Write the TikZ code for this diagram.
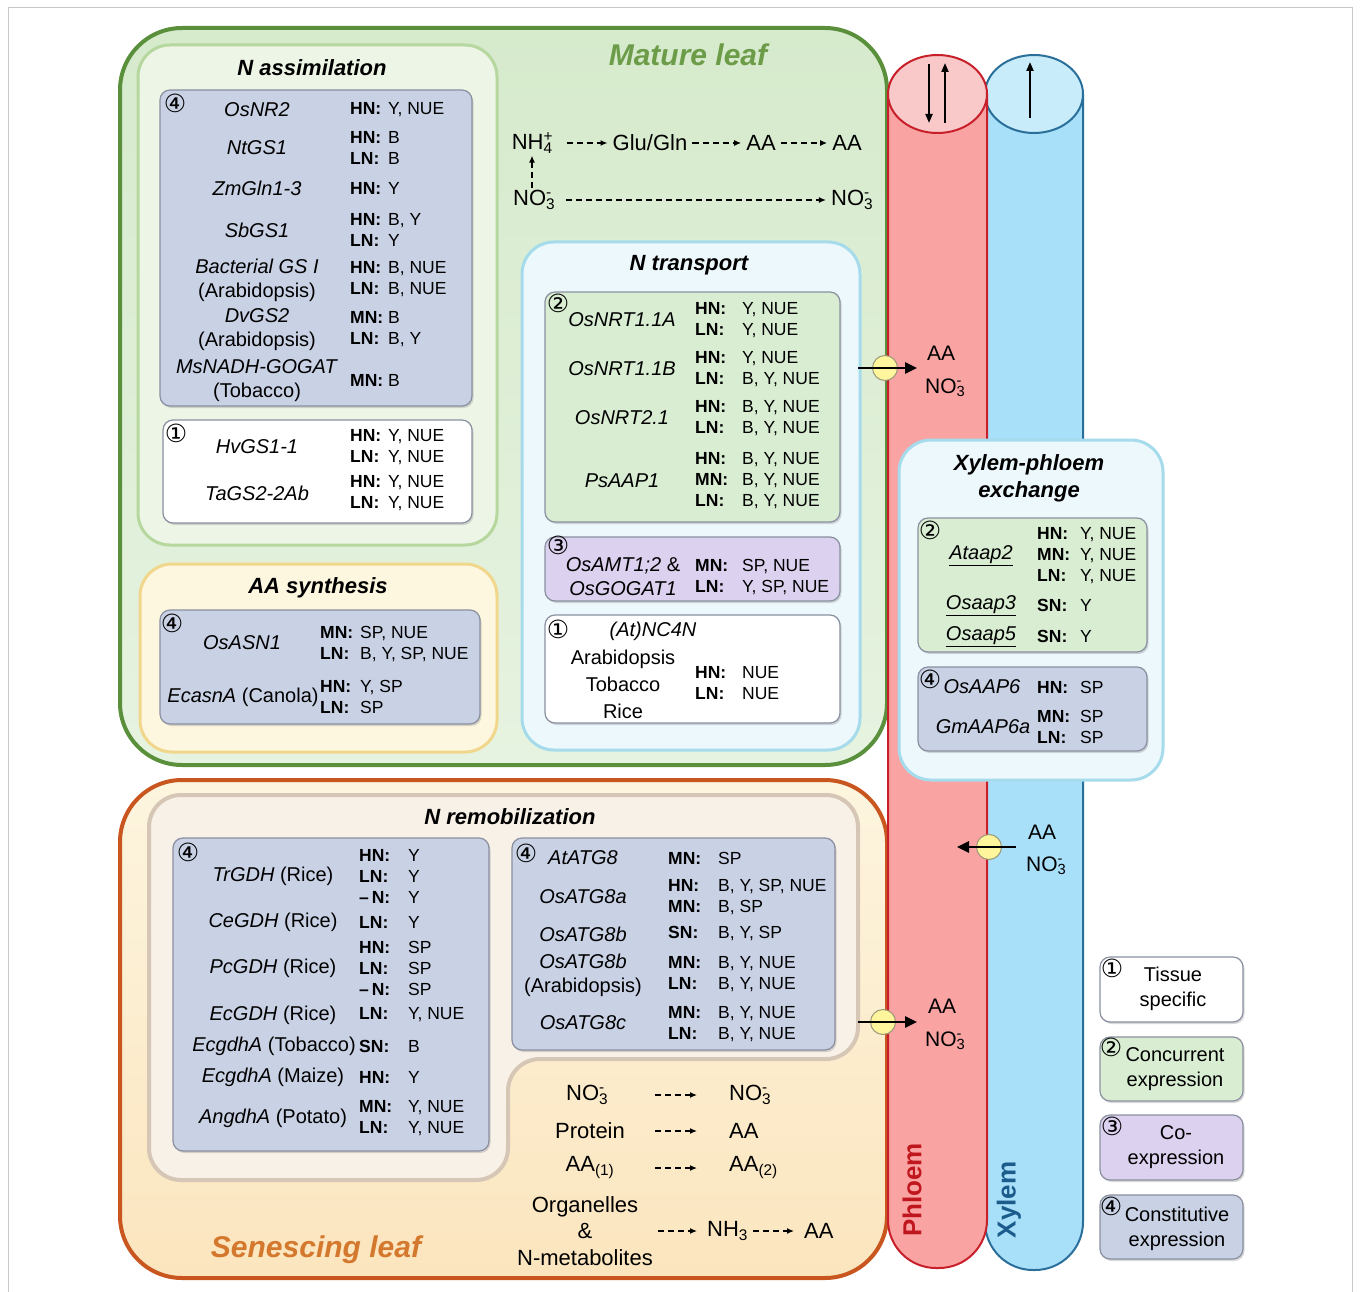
\documentclass[tikz,border=0pt]{standalone}
\usepackage{fontspec}
\setmainfont{Liberation Sans}
\newfontfamily\symfont{DejaVu Sans}
\usepackage{tikz}
\usetikzlibrary{positioning, arrows.meta, shadows}

\definecolor{matdraw}{HTML}{5A8F3C}
\definecolor{mattitle}{HTML}{6C9C48}
\definecolor{matA}{HTML}{D6EACC}
\definecolor{matB}{HTML}{E6F3E0}
\definecolor{sendraw}{HTML}{C8561E}
\definecolor{sentitle}{HTML}{D4782E}
\definecolor{senA}{HTML}{FDF5DF}
\definecolor{senB}{HTML}{FBE5BE}
\definecolor{asmdraw}{HTML}{B6D79E}
\definecolor{asmfill}{HTML}{EDF6E6}
\definecolor{aasdraw}{HTML}{F1D78C}
\definecolor{aasfill}{HTML}{FDF7E0}
\definecolor{trndraw}{HTML}{A6DBEC}
\definecolor{trnfill}{HTML}{EDF8FC}
\definecolor{remdraw}{HTML}{D6C6B6}
\definecolor{remfill}{HTML}{F8F1E8}
\definecolor{boxgray}{HTML}{8A90A0}
\definecolor{constfill}{HTML}{C9D1E5}
\definecolor{concfill}{HTML}{D9EDD3}
\definecolor{coexfill}{HTML}{DCD1EE}
\definecolor{phldraw}{HTML}{C8202A}
\definecolor{phlfill}{HTML}{F9A3A3}
\definecolor{phlcap}{HTML}{F9C8C8}
\definecolor{phltxt}{HTML}{C0161E}
\definecolor{xyldraw}{HTML}{2A6E9A}
\definecolor{xylfill}{HTML}{A9E0F9}
\definecolor{xylcap}{HTML}{C8ECFA}
\definecolor{xyltxt}{HTML}{1C5C8C}
\definecolor{portfill}{HTML}{FFF59C}
\definecolor{portdraw}{HTML}{9A9878}
\definecolor{framec}{HTML}{C8C8C8}

\newlength\condw
\newcommand\cnd[2]{\makebox[\condw][l]{\textbf{#1:}}#2}
\newcommand\nothree{NO\rlap{\raisebox{1pt}{\textsuperscript{-}}}\textsubscript{3}}

\tikzset{
  leaf/.style={line width=4pt, rounded corners=62pt},
  grp/.style={line width=3pt, rounded corners=32pt},
  gbox/.style={draw=boxgray, line width=1.2pt, rounded corners=10pt,
    drop shadow={shadow xshift=1.5pt, shadow yshift=-2pt, opacity=.3}},
  const/.style={gbox, fill=constfill},
  concur/.style={gbox, fill=concfill},
  coexp/.style={gbox, fill=coexfill},
  tissue/.style={gbox, fill=white},
  ttl/.style={font=\fontsize{22}{27}\selectfont\bfseries\itshape, align=center, inner sep=0pt},
  leaftl/.style={font=\fontsize{30}{34}\selectfont\bfseries\itshape, inner sep=0pt},
  gene/.style={font=\fontsize{20}{24}\selectfont, align=center, inner sep=0pt},
  cond/.style={font=\fontsize{17.5}{21}\selectfont, align=left, anchor=west, inner sep=0pt},
  num/.style={font=\fontsize{25}{25}\selectfont\symfont, inner sep=0pt},
  met/.style={font=\fontsize{22}{26.5}\selectfont, align=center, inner ysep=2pt, inner xsep=5pt},
  lbl/.style={font=\fontsize{21}{25}\selectfont, inner sep=0pt},
  lgd/.style={font=\fontsize{20}{25}\selectfont, align=center, inner sep=0pt},
  darr/.style={-{Latex[length=7pt, width=6pt]}, line width=1.3pt, dash pattern=on 6pt off 4pt},
  rarr/.style={darr, shorten >=30pt},
  tarr/.style={-{Triangle[length=12pt, width=11pt]}, line width=2.6pt},
  tubearr/.style={-{Triangle[length=9pt, width=7pt]}, line width=2pt},
  porter/.style={circle, draw=portdraw, fill=portfill, line width=1pt, minimum size=25pt, inner sep=0pt},
}

\begin{document}
\begin{tikzpicture}[x=1pt, y=-1pt]
\useasboundingbox (0,0) rectangle (1360,1292);
\draw[framec, line width=1pt] (8,1292) -- (8,8) -- (1352,8) -- (1352,1292);

% leaves
\path[leaf, draw=matdraw, top color=matA, bottom color=matB] (120,28) rectangle (887,765);
\path[leaf, draw=sendraw, top color=senA, bottom color=senB] (120,780) rectangle (887,1278);
\node[leaftl, text=mattitle] (mature) at (688,55) {Mature leaf};
\node[leaftl, text=sentitle] (senesc) at (316,1250) {Senescing leaf};

% group boxes
\path[grp, draw=asmdraw, fill=asmfill] (138,45) rectangle (497,545);
\path[grp, draw=aasdraw, fill=aasfill] (140,564) rectangle (497,752);
\path[grp, draw=trndraw, fill=trnfill] (522,242) rectangle (860,750);
\path[grp, draw=remdraw, fill=remfill, line width=4pt] (149,795) -- (858,795) -- (858,1059)
  -- (508,1059) -- (508,1180) -- (149,1180) -- cycle;

% xylem and phloem
\path[draw=xyldraw, fill=xylfill, line width=2pt, rounded corners=48pt] (985,94) -- (985,1270) -- (1083,1270) -- (1083,94);
\draw[xyldraw, fill=xylcap, line width=2pt] (1034,94) ellipse [x radius=49pt, y radius=39pt];
\path[draw=phldraw, fill=phlfill, line width=2pt, rounded corners=48pt] (888,94) -- (888,1268) -- (987,1268) -- (987,94);
\draw[phldraw, fill=phlcap, line width=2pt] (937.5,94) ellipse [x radius=49.5pt, y radius=39pt];
\draw[tubearr] (929,64) -- (929,123);
\draw[tubearr] (945,123) -- (945,63);
\draw[tubearr] (1030,118) -- (1030,62);
\node[font=\fontsize{26}{30}\selectfont\bfseries, text=phltxt, rotate=90] (phloem) at (912,1190) {Phloem};
\node[font=\fontsize{26}{30}\selectfont\bfseries, text=xyltxt, rotate=90] (xylem) at (1009,1200) {Xylem};

\path[grp, draw=trndraw, fill=trnfill] (899,440) rectangle (1163,780);

% inner boxes
\path[const] (160,90) rectangle (472,406);
\path[tissue] (163,420) rectangle (472,523);
\path[const] (160,610) rectangle (480,724);
\path[concur] (545,292) rectangle (840,522);
\path[coexp] (545,537) rectangle (840,601);
\path[tissue] (545,615) rectangle (840,723);
\path[concur] (918,518) rectangle (1147,652);
\path[const] (918,667) rectangle (1147,751);
\path[const] (173,838) rectangle (489,1151);
\path[const] (512,838) rectangle (835,1050);

% N assimilation
\node[ttl] (asm) at (312,68) {N assimilation};
\setlength{\condw}{38pt}
\node[num] (asmn4) at (175,103) {④};
\node[gene] (nr2) at (257,110) {\textit{OsNR2}};
\node[cond] (nr2c) at (350,110) {\cnd{HN}{Y, NUE}};
\node[gene] (ntgs) at (257,148) {\textit{NtGS1}};
\node[cond] (ntgsc) at (350,148) {\cnd{HN}{B}\\\cnd{LN}{B}};
\node[gene] (zmgln) at (257,188) {\textit{ZmGln1-3}};
\node[cond] (zmglnc) at (350,188) {\cnd{HN}{Y}};
\node[gene] (sbgs) at (257,230) {\textit{SbGS1}};
\node[cond] (sbgsc) at (350,230) {\cnd{HN}{B, Y}\\\cnd{LN}{Y}};
\node[gene] (bgs) at (257,280) {\textit{Bacterial GS I}\\(Arabidopsis)};
\node[cond] (bgsc) at (350,279) {\cnd{HN}{B, NUE}\\\cnd{LN}{B, NUE}};
\node[gene] (dvgs) at (257,330) {\textit{DvGS2}\\(Arabidopsis)};
\node[cond] (dvgsc) at (350,329) {\cnd{MN}{B}\\\cnd{LN}{B, Y}};
\node[gene] (msgog) at (257,381) {\textit{MsNADH-GOGAT}\\(Tobacco)};
\node[cond] (msgogc) at (350,380) {\cnd{MN}{B}};
\node[num] (asmn1) at (176,433) {①};
\node[gene] (hvgs) at (257,447) {\textit{HvGS1-1}};
\node[cond] (hvgsc) at (350,447) {\cnd{HN}{Y, NUE}\\\cnd{LN}{Y, NUE}};
\node[gene] (tags) at (257,493) {\textit{TaGS2-2Ab}};
\node[cond] (tagsc) at (350,493) {\cnd{HN}{Y, NUE}\\\cnd{LN}{Y, NUE}};

% AA synthesis
\node[ttl] (aas) at (318,588) {AA synthesis};
\setlength{\condw}{40pt}
\node[num] (aasn4) at (172,623) {④};
\node[gene] (asn) at (242,643) {\textit{OsASN1}};
\node[cond] (asnc) at (320,644) {\cnd{MN}{SP, NUE}\\\cnd{LN}{B, Y, SP, NUE}};
\node[gene] (ecasn) at (243,697) {\textit{EcasnA} (Canola)};
\node[cond] (ecasnc) at (320,697) {\cnd{HN}{Y, SP}\\\cnd{LN}{SP}};

% pathway in mature leaf
\node[met] (nh4) at (537,143) {NH\rlap{\raisebox{1pt}{\textsuperscript{+}}}\textsubscript{4}\hphantom{\textsuperscript{+}}};
\node[met] (glu) at (650,143) {Glu/Gln};
\node[met] (aa1) at (761,143) {AA};
\node[met] (aa2) at (847,143) {AA};
\node[met] (no3a) at (537,200) {\nothree\hphantom{\textsuperscript{-}}};
\node[met] (no3b) at (855,200) {\nothree\hphantom{\textsuperscript{-}}};
\draw[darr] (nh4) -- (glu);
\draw[darr] (glu) -- (aa1);
\draw[darr] (aa1) -- (aa2);
\draw[darr] (no3a) -- (no3b);
\draw[darr] ([xshift=-5pt]no3a.north) -- ([xshift=-5pt]nh4.south);

% N transport
\node[ttl] (trn) at (689,265) {N transport};
\setlength{\condw}{47pt}
\node[num] (trnn2) at (558,303) {②};
\node[gene] (nrt1a) at (622,320) {\textit{OsNRT1.1A}};
\node[cond] (nrt1ac) at (695,320) {\cnd{HN}{Y, NUE}\\\cnd{LN}{Y, NUE}};
\node[gene] (nrt1b) at (622,369) {\textit{OsNRT1.1B}};
\node[cond] (nrt1bc) at (695,369) {\cnd{HN}{Y, NUE}\\\cnd{LN}{B, Y, NUE}};
\node[gene] (nrt2) at (622,418) {\textit{OsNRT2.1}};
\node[cond] (nrt2c) at (695,418) {\cnd{HN}{B, Y, NUE}\\\cnd{LN}{B, Y, NUE}};
\node[gene] (aap1) at (622,481) {\textit{PsAAP1}};
\node[cond] (aap1c) at (695,481) {\cnd{HN}{B, Y, NUE}\\\cnd{MN}{B, Y, NUE}\\\cnd{LN}{B, Y, NUE}};
\node[num] (trnn3) at (558,545) {③};
\node[gene] (amt) at (623,577) {\textit{OsAMT1;2} \&\\\textit{OsGOGAT1}};
\node[cond] (amtc) at (695,577) {\cnd{MN}{SP, NUE}\\\cnd{LN}{Y, SP, NUE}};
\node[num] (trnn1) at (558,629) {①};
\node[gene] (nc4n) at (653,631) {\textit{(At)NC4N}};
\node[gene, font=\fontsize{20}{27}\selectfont] (nc4nsp) at (623,684) {Arabidopsis\\Tobacco\\Rice};
\node[cond] (nc4nc) at (695,683) {\cnd{HN}{NUE}\\\cnd{LN}{NUE}};

% transporters
\node[porter] (p1) at (885,368) {};
\coordinate (p1in) at (858,368);
\coordinate (p1out) at (917,368);
\draw[tarr] (p1in) -- (p1out);
\node[lbl] (p1aa) at (941,353) {AA};
\node[lbl] (p1no) at (948,388) {\nothree\hphantom{\textsuperscript{-}}};
\node[porter] (p2) at (989,847) {};
\coordinate (p2in) at (1016,847);
\coordinate (p2out) at (957,847);
\draw[tarr] (p2in) -- (p2out);
\node[lbl] (p2aa) at (1042,832) {AA};
\node[lbl] (p2no) at (1049,866) {\nothree\hphantom{\textsuperscript{-}}};
\node[porter] (p3) at (883,1022) {};
\coordinate (p3in) at (858,1022);
\coordinate (p3out) at (917,1022);
\draw[tarr] (p3in) -- (p3out);
\node[lbl] (p3aa) at (942,1006) {AA};
\node[lbl] (p3no) at (948,1041) {\nothree\hphantom{\textsuperscript{-}}};

% xylem-phloem exchange
\node[ttl] (xpx) at (1029,478) {Xylem-phloem\\exchange};
\setlength{\condw}{43pt}
\node[num] (xpxn2) at (930,530) {②};
\node[gene] (ataap2) at (981,556) {\underline{\textit{Ataap2}}};
\node[cond] (ataap2c) at (1037,556) {\cnd{HN}{Y, NUE}\\\cnd{MN}{Y, NUE}\\\cnd{LN}{Y, NUE}};
\node[gene] (osaap3) at (981,606) {\underline{\textit{Osaap3}}};
\node[cond] (osaap3c) at (1037,605) {\cnd{SN}{Y}};
\node[gene] (osaap5) at (981,637) {\underline{\textit{Osaap5}}};
\node[cond] (osaap5c) at (1037,636) {\cnd{SN}{Y}};
\node[num] (xpxn4) at (930,679) {④};
\node[gene] (aap6) at (982,687) {\textit{OsAAP6}};
\node[cond] (aap6c) at (1037,687) {\cnd{HN}{SP}};
\node[gene] (aap6a) at (983,727) {\textit{GmAAP6a}};
\node[cond] (aap6ac) at (1037,727) {\cnd{MN}{SP}\\\cnd{LN}{SP}};

% N remobilization
\node[ttl] (rem) at (510,817) {N remobilization};
\setlength{\condw}{49pt}
\node[num] (remn4a) at (188,852) {④};
\node[gene] (trgdh) at (273,876) {\textit{TrGDH} (Rice)};
\node[cond] (trgdhc) at (359,876) {\cnd{HN}{Y}\\\cnd{LN}{Y}\\\cnd{\hphantom{H}\llap{–\,}N}{Y}};
\node[gene] (cegdh) at (273,922) {\textit{CeGDH} (Rice)};
\node[cond] (cegdhc) at (359,922) {\cnd{LN}{Y}};
\node[gene] (pcgdh) at (273,968) {\textit{PcGDH} (Rice)};
\node[cond] (pcgdhc) at (359,968) {\cnd{HN}{SP}\\\cnd{LN}{SP}\\\cnd{\hphantom{H}\llap{–\,}N}{SP}};
\node[gene] (ecgdh) at (273,1015) {\textit{EcGDH} (Rice)};
\node[cond] (ecgdhc) at (359,1015) {\cnd{LN}{Y, NUE}};
\node[gene] (ecgtob) at (274,1046) {\textit{EcgdhA} (Tobacco)};
\node[cond] (ecgtobc) at (359,1046) {\cnd{SN}{B}};
\node[gene] (ecgmz) at (273,1077) {\textit{EcgdhA} (Maize)};
\node[cond] (ecgmzc) at (359,1077) {\cnd{HN}{Y}};
\node[gene] (angdh) at (273,1118) {\textit{AngdhA} (Potato)};
\node[cond] (angdhc) at (359,1118) {\cnd{MN}{Y, NUE}\\\cnd{LN}{Y, NUE}};
\setlength{\condw}{50pt}
\node[num] (remn4b) at (526,853) {④};
\node[gene] (atg8) at (583,858) {\textit{AtATG8}};
\node[cond] (atg8c) at (668,858) {\cnd{MN}{SP}};
\node[gene] (atg8a) at (583,897) {\textit{OsATG8a}};
\node[cond] (atg8ac) at (668,897) {\cnd{HN}{B, Y, SP, NUE}\\\cnd{MN}{B, SP}};
\node[gene] (atg8b) at (583,934) {\textit{OsATG8b}};
\node[cond] (atg8bc) at (668,934) {\cnd{SN}{B, Y, SP}};
\node[gene] (atg8bar) at (583,975) {\textit{OsATG8b}\\(Arabidopsis)};
\node[cond] (atg8barc) at (668,974) {\cnd{MN}{B, Y, NUE}\\\cnd{LN}{B, Y, NUE}};
\node[gene] (atg8c) at (583,1023) {\textit{OsATG8c}};
\node[cond] (atg8cc) at (668,1024) {\cnd{MN}{B, Y, NUE}\\\cnd{LN}{B, Y, NUE}};

% pathway in senescing leaf
\node[met, minimum width=130pt] (sno3) at (590,1095) {\nothree\hphantom{\textsuperscript{-}}};
\node[met, anchor=west, inner xsep=2pt] (sno3b) at (727,1095) {\nothree};
\node[met, minimum width=130pt] (prot) at (590,1131) {Protein};
\node[met, anchor=west, inner xsep=2pt] (saa) at (727,1131) {AA};
\node[met, minimum width=130pt] (saa1) at (590,1168) {AA\textsubscript{(1)}};
\node[met, anchor=west, inner xsep=2pt] (saa2) at (727,1168) {AA\textsubscript{(2)}};
\node[met] (org) at (585,1231) {Organelles\\\&\\N-metabolites};
\node[met, anchor=west, inner xsep=2pt] (nh3) at (705,1231) {NH\textsubscript{3}};
\node[met, anchor=west, inner xsep=2pt] (saa3) at (802,1231) {AA};
\draw[rarr] (sno3) -- (sno3b);
\draw[rarr] (prot) -- (saa);
\draw[rarr] (saa1) -- (saa2);
\draw[darr, shorten >=8pt] (org.east |- nh3) -- (nh3);
\draw[darr, shorten <=3pt, shorten >=8pt] (nh3) -- (saa3);

% legend
\path[tissue] (1100,957) rectangle (1243,1022);
\path[concur] (1100,1037) rectangle (1243,1101);
\path[coexp] (1100,1115) rectangle (1243,1180);
\path[const] (1100,1195) rectangle (1243,1259);
\node[num] (lg1n) at (1112,968) {①};
\node[lgd] (lg1) at (1173,989) {Tissue\\specific};
\node[num] (lg2n) at (1111,1047) {②};
\node[lgd] (lg2) at (1175,1069) {Concurrent\\expression};
\node[num] (lg3n) at (1112,1126) {③};
\node[lgd] (lg3) at (1176,1147) {Co-\\expression};
\node[num] (lg4n) at (1111,1206) {④};
\node[lgd] (lg4) at (1177,1229) {Constitutive\\expression};
\end{tikzpicture}
\end{document}
